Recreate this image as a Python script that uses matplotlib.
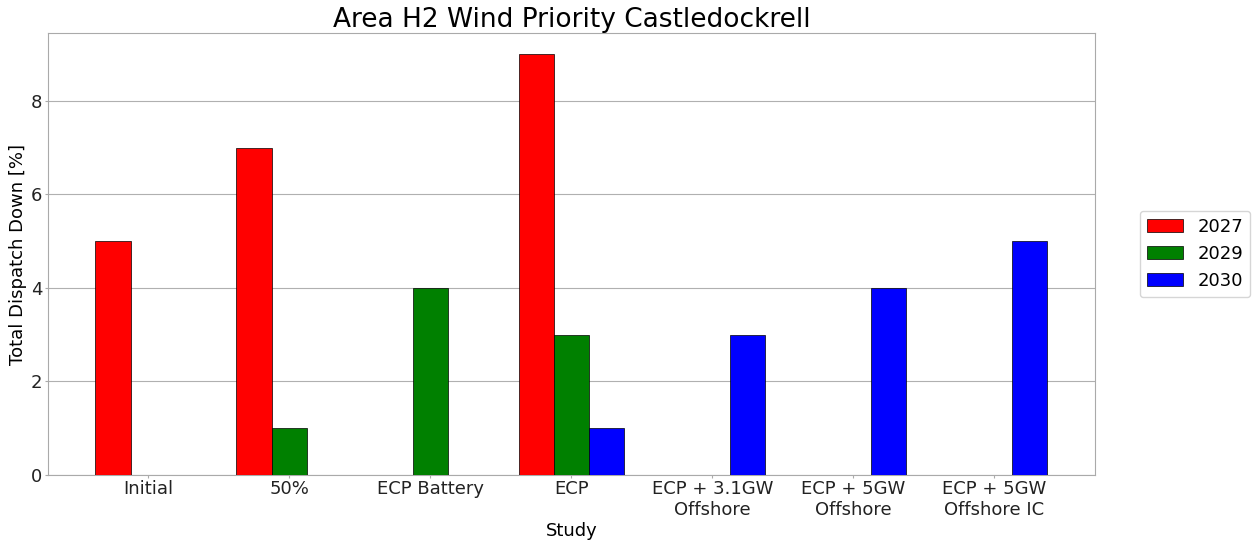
import numpy as np
from matplotlib import pyplot as plt

studies = ['Initial', '50%', 'ECP Battery', 'ECP', 'ECP + 3.1GW\nOffshore',
           'ECP + 5GW\nOffshore', 'ECP + 5GW\nOffshore IC']
years = ['2027', '2029', '2030']
vals_2027 = [5, 7, 0, 9, 0, 0, 0]
vals_2029 = [0, 1, 4, 3, 0, 0, 0]
vals_2030 = [0, 0, 0, 1, 3, 4, 5]
colors = ['red', 'green', 'blue']

fig = plt.figure(figsize=(12.6, 5.44), dpi=100)
ax = fig.add_axes([0.038, 0.127, 0.831, 0.812])

x = np.arange(len(studies))
w = 0.25
for i, (vals, lab) in enumerate(zip([vals_2027, vals_2029, vals_2030], years)):
    ax.bar(x + (i - 1) * w, vals, w, color=colors[i], edgecolor='black',
           linewidth=0.5, label=lab, zorder=3)

ax.set_xticks(x)
ax.set_xticklabels(studies, fontsize=13)
ax.tick_params(axis='y', labelsize=13)
ax.tick_params(colors='#aaaaaa', labelcolor='#222222', length=2.5, pad=1.5)
ax.set_yticks([0, 2, 4, 6, 8])
for s in ax.spines.values():
    s.set_color('#aaaaaa')
ax.grid(axis='y', color='#b0b0b0', linewidth=0.8, zorder=0)
ax.set_xlabel('Study', fontsize=13, labelpad=2)
ax.set_ylabel('Total Dispatch Down [%]', fontsize=13, labelpad=3)
ax.set_title('Area H2 Wind Priority Castledockrell', fontsize=19, pad=4)
ax.legend(loc='center left', bbox_to_anchor=(1.034, 0.5), fontsize=13)

plt.savefig('out.png')
